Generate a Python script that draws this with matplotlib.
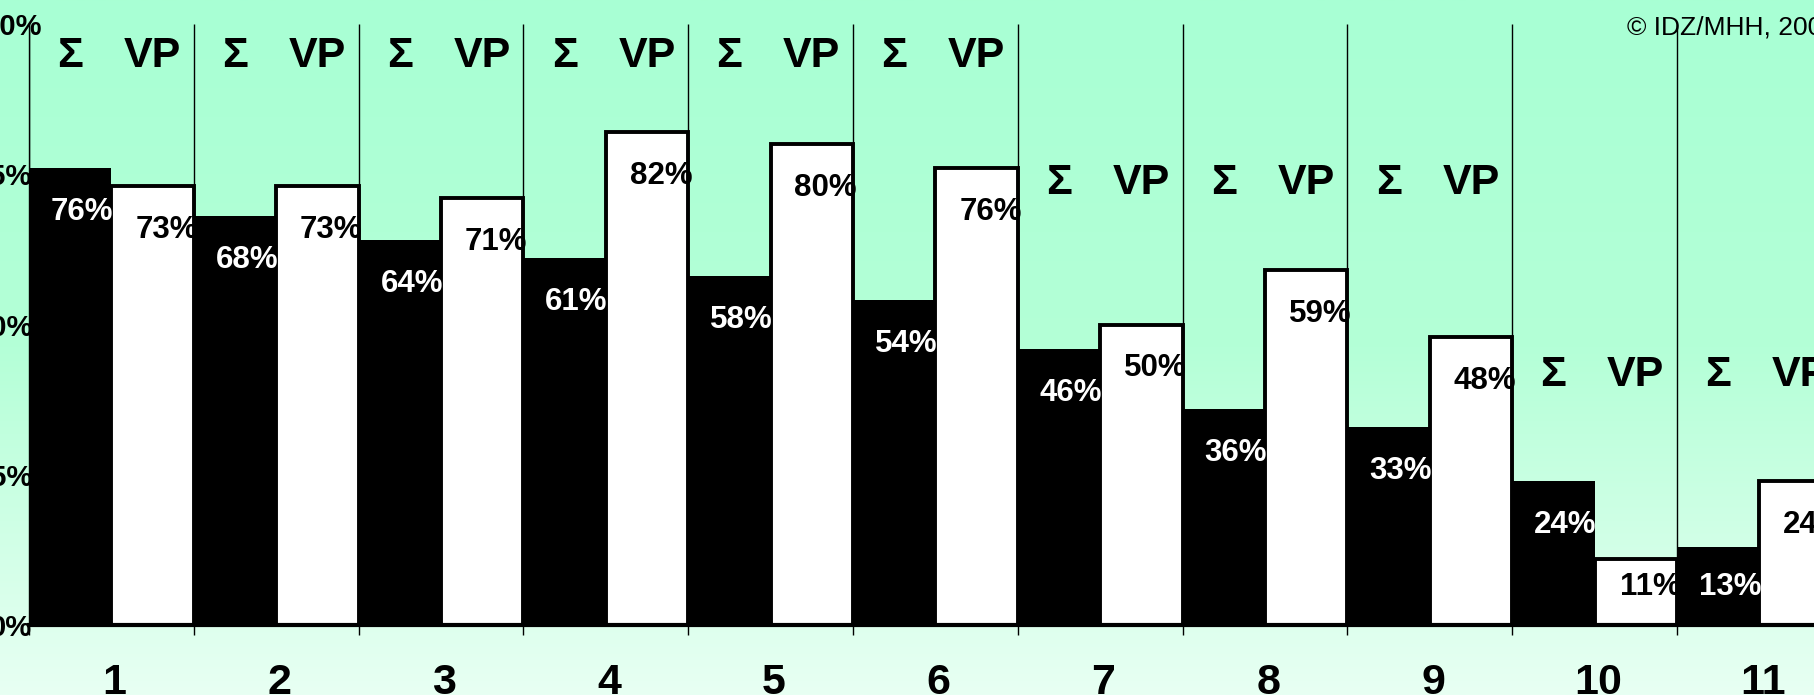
import numpy as np
import matplotlib
matplotlib.use("Agg")
import matplotlib.pyplot as plt
from matplotlib.colors import LinearSegmentedColormap

plt.rcParams['font.family'] = ['Liberation Sans', 'DejaVu Sans']

# ---- data ----
groups = ['1', '2', '3', '4', '5', '6', '7', '8', '9', '10', '11']
sigma_vals = [76, 68, 64, 61, 58, 54, 46, 36, 33, 24, 13]   # Σ (black)
vp_vals = [73, 73, 71, 82, 80, 76, 50, 59, 48, 11, 24]      # VP (white)
header_levels = [94.6, 94.6, 94.6, 94.6, 94.6, 94.6, 73.6, 73.6, 73.6, 41.6, 41.6]
yticks = [0, 25, 50, 75, 100]
ytick_labels = ['0%', '25%', '50%', '75%', '100%']
copyright_text = '© IDZ/MHH, 200'

W, H, DPI = 1814, 695, 100
fig = plt.figure(figsize=(W / DPI, H / DPI), dpi=DPI)

# background gradient
bg = fig.add_axes([0, 0, 1, 1], zorder=-10)
cmap = LinearSegmentedColormap.from_list('bg', ['#a8ffd4', '#b4ffd7', '#e8fff3'])
grad = np.linspace(0, 1, 256).reshape(-1, 1)
bg.imshow(grad, aspect='auto', cmap=cmap, extent=[0, 1, 0, 1], origin='upper')
bg.set_axis_off()

px_per_group = 164.8
left = 29 / W
bottom = 1 - 625 / H
top = 1 - 24 / H
ax_w = len(groups) * px_per_group / W
ax = fig.add_axes([left, bottom, ax_w, top - bottom])
ax.set_facecolor('none')

n = len(groups)
x0 = np.arange(n)
bw = 0.5

# dividers
ax.vlines(np.arange(n + 1), 0, 100, colors='black', linewidth=1.0, zorder=1)

ax.bar(x0, sigma_vals, width=bw, align='edge', color='black', edgecolor='none', zorder=2)
ax.bar(x0 + bw, vp_vals, width=bw, align='edge', color='white', edgecolor='black',
       linewidth=2.8, zorder=3)

ax.set_xlim(0, n)
ax.set_ylim(0, 100)

px_per_unit = (625 - 24) / 100.0

def label_offset(v):
    hpx = v * px_per_unit
    return -min(44, hpx - 38)

for i in range(n):
    s, v = sigma_vals[i], vp_vals[i]
    ax.annotate(f'{s}%', xy=(x0[i] + bw, s), xytext=(2, label_offset(s)),
                textcoords='offset pixels', ha='right', va='center',
                color='white', fontsize=22.5, fontweight='bold', zorder=5)
    ax.annotate(f'{v}%', xy=(x0[i] + 2 * bw, v), xytext=(4, label_offset(v)),
                textcoords='offset pixels', ha='right', va='center',
                color='black', fontsize=22.5, fontweight='bold', zorder=5)
    ax.text(x0[i] + bw * 0.5, header_levels[i], 'Σ', ha='center', va='center',
            fontsize=31, fontweight='bold', color='black', zorder=5)
    ax.text(x0[i] + bw * 1.5, header_levels[i], 'VP', ha='center', va='center',
            fontsize=31, fontweight='bold', color='black', zorder=5)

# axes styling
for side in ['top', 'right']:
    ax.spines[side].set_visible(False)
ax.spines['left'].set_linewidth(1.0)
ax.spines['bottom'].set_linewidth(3.0)
ax.spines['bottom'].set_zorder(6)

ax.set_yticks(yticks)
ax.set_yticklabels(ytick_labels, fontsize=21, fontweight='bold')
ax.tick_params(axis='y', length=0, pad=-2.2)
# top label sits a little further right in the original
top_lab = ax.get_yticklabels()[-1]
top_lab.set_x(10 / (ax_w * W))

ax.set_xticks(np.arange(n + 1))
ax.set_xticklabels([])
ax.tick_params(axis='x', which='major', length=7, width=1, direction='out')
ax.set_xticks(x0 + 0.52, minor=True)
ax.set_xticklabels(groups, minor=True, fontsize=31, fontweight='bold')
ax.tick_params(axis='x', which='minor', length=0, pad=27)

fig.text(1627 / W, 1 - 27 / H, copyright_text, ha='left', va='center',
         fontsize=19, color='black')

fig.savefig('out.png', dpi=DPI)
